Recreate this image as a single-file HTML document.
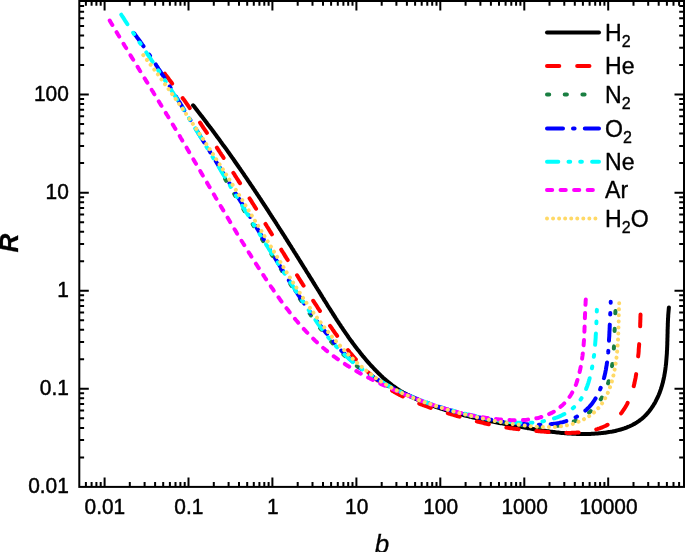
<!DOCTYPE html>
<html><head><meta charset="utf-8"><title>R vs b</title>
<style>
html,body{margin:0;padding:0;background:#fff}
body{width:685px;height:552px;overflow:hidden}
svg{display:block}
text{font-family:"Liberation Sans",sans-serif;fill:#000}
</style></head><body>
<svg width="685" height="552" viewBox="0 0 685 552">
<rect width="685" height="552" fill="#fff"/>
<g fill="none" stroke-width="4" stroke-linecap="round" stroke-linejoin="round">
<path stroke="#000000" d="M193.1 105.3L193.9 106.2L194.6 107.2L195.4 108.1L196.1 109.1L196.9 110.0L197.6 111.0L198.4 112.0L199.1 112.9L199.8 113.9L200.6 114.8L201.3 115.8L202.1 116.7L202.8 117.7L203.5 118.7L204.3 119.6L205.0 120.6L205.7 121.5L206.5 122.5L207.2 123.5L207.9 124.4L208.7 125.4L209.4 126.3L210.1 127.3L210.9 128.3L211.6 129.2L212.3 130.2L213.0 131.2L213.8 132.1L214.5 133.1L215.2 134.1L215.9 135.1L216.6 136.0L217.3 137.0L218.1 138.0L218.8 138.9L219.5 139.9L220.2 140.9L220.9 141.9L221.6 142.8L222.3 143.8L223.0 144.8L223.7 145.8L224.5 146.8L225.2 147.7L225.9 148.7L226.6 149.7L227.3 150.7L228.0 151.7L228.7 152.6L229.4 153.6L230.1 154.6L230.8 155.6L231.5 156.6L232.2 157.6L232.9 158.6L233.6 159.5L234.2 160.5L234.9 161.5L235.6 162.5L236.3 163.5L237.0 164.5L237.7 165.5L238.4 166.5L239.1 167.5L239.8 168.4L240.4 169.4L241.1 170.4L241.8 171.4L242.5 172.4L243.2 173.4L243.9 174.4L244.5 175.4L245.2 176.4L245.9 177.4L246.6 178.4L247.3 179.4L247.9 180.4L248.6 181.4L249.3 182.4L250.0 183.4L250.6 184.4L251.3 185.4L252.0 186.4L252.7 187.4L253.3 188.4L254.0 189.4L254.7 190.4L255.3 191.4L256.0 192.4L256.7 193.4L257.3 194.4L258.0 195.4L258.7 196.4L259.3 197.4L260.0 198.4L260.7 199.4L261.3 200.4L262.0 201.5L262.7 202.5L263.3 203.5L264.0 204.5L264.7 205.5L265.3 206.5L266.0 207.5L266.6 208.5L267.3 209.5L268.0 210.5L268.6 211.6L269.3 212.6L269.9 213.6L270.6 214.6L271.2 215.6L271.9 216.6L272.5 217.6L273.2 218.6L273.9 219.7L274.5 220.7L275.2 221.7L275.8 222.7L276.5 223.7L277.1 224.7L277.8 225.8L278.4 226.8L279.1 227.8L279.7 228.8L280.4 229.8L281.0 230.8L281.7 231.9L282.3 232.9L283.0 233.9L283.6 234.9L284.3 235.9L284.9 237.0L285.6 238.0L286.2 239.0L286.8 240.0L287.5 241.0L288.1 242.1L288.8 243.1L289.4 244.1L290.1 245.1L290.7 246.2L291.4 247.2L292.0 248.2L292.6 249.2L293.3 250.2L293.9 251.3L294.6 252.3L295.2 253.3L295.9 254.3L296.5 255.4L297.1 256.4L297.8 257.4L298.4 258.4L299.1 259.5L299.7 260.5L300.3 261.5L301.0 262.5L301.6 263.6L302.3 264.6L302.9 265.6L303.6 266.7L304.2 267.7L304.8 268.7L305.5 269.7L306.1 270.8L306.7 271.8L307.4 272.8L308.0 273.8L308.7 274.9L309.3 275.9L309.9 276.9L310.6 278.0L311.2 279.0L311.9 280.0L312.5 281.0L313.1 282.1L313.8 283.1L314.4 284.1L315.1 285.2L315.7 286.2L316.3 287.2L317.0 288.3L317.6 289.3L318.3 290.3L318.9 291.3L319.5 292.4L320.2 293.4L320.8 294.4L321.4 295.5L322.1 296.5L322.7 297.5L323.4 298.6L324.0 299.6L324.6 300.6L325.3 301.6L325.9 302.7L326.6 303.7L327.2 304.7L327.8 305.8L328.5 306.8L329.1 307.8L329.8 308.8L330.4 309.9L331.1 310.9L331.7 311.9L332.4 312.9L333.0 314.0L333.7 315.0L334.3 316.0L335.0 317.0L335.6 318.0L336.3 319.1L336.9 320.1L337.6 321.1L338.3 322.1L338.9 323.1L339.6 324.1L340.3 325.1L340.9 326.1L341.6 327.2L342.3 328.2L343.0 329.2L343.6 330.2L344.3 331.2L345.0 332.2L345.7 333.2L346.4 334.1L347.1 335.1L347.8 336.1L348.4 337.1L349.1 338.1L349.8 339.1L350.5 340.1L351.3 341.0L352.0 342.0L352.7 343.0L353.4 343.9L354.1 344.9L354.8 345.9L355.6 346.8L356.3 347.8L357.0 348.7L357.8 349.7L358.5 350.6L359.3 351.6L360.0 352.5L360.8 353.5L361.5 354.4L362.3 355.3L363.0 356.3L363.8 357.2L364.6 358.1L365.4 359.0L366.1 360.0L366.9 360.9L367.7 361.8L368.5 362.7L369.3 363.6L370.1 364.5L370.9 365.4L371.7 366.3L372.6 367.1L373.4 368.0L374.2 368.9L375.0 369.8L375.9 370.6L376.7 371.5L377.6 372.3L378.4 373.2L379.3 374.0L380.2 374.9L381.0 375.7L381.9 376.5L382.8 377.4L383.7 378.2L384.6 379.0L385.5 379.8L386.4 380.6L387.3 381.3L388.2 382.1L389.2 382.9L390.1 383.6L391.1 384.4L392.0 385.1L393.0 385.8L393.9 386.5L394.9 387.2L395.9 387.9L396.9 388.6L397.9 389.3L398.9 389.9L399.9 390.6L400.9 391.2L402.0 391.8L403.0 392.4L404.1 393.0L405.1 393.6L406.2 394.2L407.2 394.8L408.3 395.3L409.4 395.9L410.5 396.4L411.5 396.9L412.6 397.5L413.7 398.0L414.8 398.5L415.9 399.0L417.0 399.5L418.1 400.0L419.2 400.5L420.4 400.9L421.5 401.4L422.6 401.9L423.7 402.3L424.8 402.8L426.0 403.2L427.1 403.6L428.2 404.1L429.4 404.5L430.5 404.9L431.6 405.3L432.8 405.8L433.9 406.2L435.0 406.6L436.2 407.0L437.3 407.4L438.5 407.7L439.6 408.1L440.8 408.5L441.9 408.9L443.1 409.2L444.2 409.6L445.4 410.0L446.5 410.3L447.7 410.7L448.8 411.0L450.0 411.4L451.1 411.7L452.3 412.0L453.5 412.4L454.6 412.7L455.8 413.0L457.0 413.4L458.1 413.7L459.3 414.0L460.5 414.3L461.6 414.6L462.8 414.9L464.0 415.2L465.1 415.5L466.3 415.8L467.5 416.1L468.7 416.4L469.8 416.7L471.0 416.9L472.2 417.2L473.4 417.5L474.6 417.8L475.7 418.0L476.9 418.3L478.1 418.6L479.3 418.8L480.5 419.1L481.6 419.3L482.8 419.6L484.0 419.8L485.2 420.1L486.4 420.3L487.6 420.6L488.7 420.8L489.9 421.1L491.1 421.3L492.3 421.6L493.5 421.8L494.7 422.0L495.9 422.3L497.1 422.5L498.2 422.7L499.4 423.0L500.6 423.2L501.8 423.4L503.0 423.6L504.2 423.9L505.4 424.1L506.6 424.3L507.8 424.5L508.9 424.7L510.1 425.0L511.3 425.2L512.5 425.4L513.7 425.6L514.9 425.8L516.1 426.0L517.3 426.3L518.5 426.5L519.7 426.7L520.8 426.9L522.0 427.1L523.2 427.3L524.4 427.5L525.6 427.7L526.8 427.9L528.0 428.2L529.2 428.4L530.4 428.6L531.5 428.8L532.7 429.0L533.9 429.2L535.1 429.4L536.3 429.6L537.5 429.7L538.7 429.9L539.9 430.1L541.1 430.3L542.3 430.5L543.4 430.7L544.6 430.8L545.8 431.0L547.0 431.2L548.2 431.3L549.4 431.5L550.6 431.7L551.8 431.8L553.0 432.0L554.2 432.1L555.4 432.2L556.6 432.4L557.8 432.5L559.0 432.6L560.2 432.8L561.4 432.9L562.6 433.0L563.8 433.1L565.0 433.2L566.2 433.3L567.4 433.4L568.6 433.5L569.8 433.5L571.0 433.6L572.2 433.7L573.4 433.7L574.6 433.8L575.8 433.8L577.0 433.9L578.3 433.9L579.5 433.9L580.7 434.0L581.9 434.0L583.1 434.0L584.3 434.0L585.6 434.0L586.8 434.0L588.0 433.9L589.2 433.9L590.4 433.9L591.7 433.8L592.9 433.8L594.1 433.7L595.4 433.6L596.6 433.5L597.8 433.4L599.0 433.3L600.3 433.2L601.5 433.1L602.7 433.0L604.0 432.8L605.2 432.7L606.4 432.5L607.6 432.3L608.9 432.1L610.1 431.9L611.3 431.7L612.5 431.5L613.7 431.2L614.9 431.0L616.1 430.7L617.2 430.4L618.4 430.1L619.6 429.8L620.7 429.5L621.9 429.1L623.0 428.8L624.2 428.4L625.3 428.0L626.4 427.6L627.5 427.1L628.6 426.7L629.7 426.2L630.7 425.7L631.8 425.2L632.8 424.7L633.9 424.1L634.9 423.6L635.9 423.0L636.9 422.4L637.9 421.7L638.8 421.1L639.7 420.4L640.7 419.7L641.6 419.0L642.5 418.2L643.3 417.5L644.2 416.7L645.0 415.9L645.9 415.0L646.7 414.2L647.4 413.3L648.2 412.4L649.0 411.5L649.7 410.6L650.4 409.6L651.1 408.7L651.8 407.7L652.5 406.7L653.1 405.7L653.7 404.7L654.4 403.7L655.0 402.6L655.5 401.6L656.1 400.5L656.6 399.4L657.2 398.3L657.7 397.2L658.2 396.1L658.7 395.0L659.1 393.9L659.6 392.8L660.0 391.6L660.4 390.5L660.8 389.4L661.2 388.2L661.5 387.1L661.9 385.9L662.2 384.7L662.5 383.6L662.9 382.4L663.1 381.2L663.4 380.0L663.7 378.8L663.9 377.6L664.2 376.4L664.4 375.2L664.6 374.0L664.8 372.8L665.0 371.6L665.2 370.4L665.4 369.2L665.5 368.0L665.7 366.7L665.8 365.5L666.0 364.3L666.1 363.1L666.2 361.8L666.3 360.6L666.4 359.4L666.5 358.1L666.6 356.9L666.7 355.7L666.8 354.4L666.9 353.2L666.9 352.0L667.0 350.7L667.1 349.5L667.1 348.2L667.2 347.0L667.2 345.8L667.3 344.5L667.3 343.3L667.3 342.0L667.4 340.8L667.4 339.6L667.4 338.3L667.5 337.1L667.5 335.9L667.5 334.7L667.6 333.4L667.6 332.2L667.6 331.0L667.6 329.8L667.7 328.6L667.7 327.4L667.8 326.2L667.8 324.9L667.8 323.7L667.9 322.5L667.9 321.4L668.0 320.2L668.0 319.0L668.1 317.8L668.2 316.6L668.2 315.5L668.3 314.3L668.4 313.1L668.5 312.0L668.6 310.8L668.7 309.7L668.8 308.5L668.9 307.4"/>
<path stroke="#FF0000" stroke-dasharray="12.30 17.87" d="M164.8 73.7L165.5 74.7L166.3 75.7L167.0 76.6L167.7 77.6L168.5 78.6L169.2 79.6L169.9 80.6L170.7 81.6L171.4 82.5L172.1 83.5L172.8 84.5L173.6 85.5L174.3 86.5L175.0 87.5L175.7 88.5L176.5 89.5L177.2 90.4L177.9 91.4L178.6 92.4L179.4 93.4L180.1 94.4L180.8 95.4L181.5 96.4L182.2 97.4L182.9 98.4L183.7 99.4L184.4 100.4L185.1 101.4L185.8 102.4L186.5 103.4L187.2 104.4L187.9 105.4L188.6 106.4L189.3 107.4L190.0 108.4L190.8 109.4L191.5 110.4L192.2 111.4L192.9 112.4L193.6 113.4L194.3 114.4L195.0 115.4L195.7 116.5L196.4 117.5L197.1 118.5L197.8 119.5L198.5 120.5L199.2 121.5L199.9 122.5L200.6 123.5L201.3 124.5L202.0 125.6L202.7 126.6L203.3 127.6L204.0 128.6L204.7 129.6L205.4 130.6L206.1 131.6L206.8 132.7L207.5 133.7L208.2 134.7L208.9 135.7L209.6 136.7L210.2 137.8L210.9 138.8L211.6 139.8L212.3 140.8L213.0 141.8L213.7 142.9L214.4 143.9L215.0 144.9L215.7 145.9L216.4 146.9L217.1 148.0L217.8 149.0L218.4 150.0L219.1 151.0L219.8 152.1L220.5 153.1L221.1 154.1L221.8 155.2L222.5 156.2L223.2 157.2L223.8 158.2L224.5 159.3L225.2 160.3L225.9 161.3L226.5 162.4L227.2 163.4L227.9 164.4L228.5 165.4L229.2 166.5L229.9 167.5L230.6 168.5L231.2 169.6L231.9 170.6L232.6 171.6L233.2 172.7L233.9 173.7L234.6 174.7L235.2 175.8L235.9 176.8L236.5 177.8L237.2 178.9L237.9 179.9L238.5 181.0L239.2 182.0L239.9 183.0L240.5 184.1L241.2 185.1L241.8 186.1L242.5 187.2L243.2 188.2L243.8 189.2L244.5 190.3L245.1 191.3L245.8 192.4L246.4 193.4L247.1 194.4L247.7 195.5L248.4 196.5L249.1 197.6L249.7 198.6L250.4 199.6L251.0 200.7L251.7 201.7L252.3 202.8L253.0 203.8L253.6 204.8L254.3 205.9L254.9 206.9L255.6 208.0L256.2 209.0L256.9 210.1L257.5 211.1L258.2 212.1L258.8 213.2L259.5 214.2L260.1 215.3L260.8 216.3L261.4 217.4L262.1 218.4L262.7 219.4L263.4 220.5L264.0 221.5L264.6 222.6L265.3 223.6L265.9 224.7L266.6 225.7L267.2 226.7L267.9 227.8L268.5 228.8L269.1 229.9L269.8 230.9L270.4 232.0L271.1 233.0L271.7 234.0L272.4 235.1L273.0 236.1L273.6 237.2L274.3 238.2L274.9 239.3L275.6 240.3L276.2 241.4L276.8 242.4L277.5 243.4L278.1 244.5L278.8 245.5L279.4 246.6L280.0 247.6L280.7 248.7L281.3 249.7L281.9 250.8L282.6 251.8L283.2 252.8L283.9 253.9L284.5 254.9L285.1 256.0L285.8 257.0L286.4 258.1L287.1 259.1L287.7 260.1L288.3 261.2L289.0 262.2L289.6 263.3L290.3 264.3L290.9 265.4L291.5 266.4L292.2 267.4L292.8 268.5L293.5 269.5L294.1 270.6L294.8 271.6L295.4 272.6L296.1 273.7L296.7 274.7L297.4 275.8L298.0 276.8L298.6 277.8L299.3 278.9L299.9 279.9L300.6 280.9L301.2 282.0L301.9 283.0L302.6 284.1L303.2 285.1L303.9 286.1L304.5 287.2L305.2 288.2L305.8 289.2L306.5 290.3L307.1 291.3L307.8 292.3L308.5 293.4L309.1 294.4L309.8 295.4L310.5 296.5L311.1 297.5L311.8 298.5L312.5 299.6L313.1 300.6L313.8 301.6L314.5 302.7L315.1 303.7L315.8 304.7L316.5 305.7L317.2 306.8L317.8 307.8L318.5 308.8L319.2 309.9L319.9 310.9L320.6 311.9L321.2 312.9L321.9 314.0L322.6 315.0L323.3 316.0L324.0 317.0L324.7 318.0L325.4 319.1L326.1 320.1L326.8 321.1L327.5 322.1L328.2 323.1L328.9 324.2L329.6 325.2L330.3 326.2L331.0 327.2L331.7 328.2L332.4 329.2L333.1 330.3L333.9 331.3L334.6 332.3L335.3 333.3L336.0 334.3L336.8 335.3L337.5 336.3L338.2 337.3L338.9 338.3L339.7 339.3L340.4 340.3L341.2 341.3L341.9 342.3L342.7 343.3L343.4 344.2L344.2 345.2L344.9 346.2L345.7 347.2L346.4 348.2L347.2 349.1L348.0 350.1L348.8 351.0L349.5 352.0L350.3 353.0L351.1 353.9L351.9 354.8L352.7 355.8L353.5 356.7L354.3 357.7L355.1 358.6L355.9 359.5L356.7 360.4L357.5 361.3L358.4 362.2L359.2 363.1L360.0 364.0L360.9 364.9L361.7 365.8L362.6 366.7L363.4 367.6L364.3 368.4L365.1 369.3L366.0 370.1L366.9 371.0L367.7 371.8L368.6 372.7L369.5 373.5L370.4 374.3L371.3 375.1L372.2 375.9L373.1 376.7L374.0 377.5L375.0 378.3L375.9 379.1L376.8 379.8L377.8 380.6L378.7 381.4L379.7 382.1L380.6 382.8L381.6 383.6L382.6 384.3L383.5 385.0L384.5 385.7L385.5 386.4L386.5 387.1L387.5 387.7L388.5 388.4L389.5 389.1L390.6 389.7L391.6 390.3L392.6 391.0L393.7 391.6L394.7 392.2L395.8 392.8L396.9 393.4L397.9 394.0L399.0 394.6L400.1 395.1L401.2 395.7L402.3 396.2L403.4 396.8L404.5 397.3L405.6 397.8L406.7 398.4L407.8 398.9L408.9 399.4L410.1 399.9L411.2 400.4L412.3 400.9L413.5 401.3L414.6 401.8L415.8 402.3L416.9 402.7L418.1 403.2L419.2 403.6L420.4 404.1L421.6 404.5L422.7 405.0L423.9 405.4L425.1 405.8L426.2 406.2L427.4 406.7L428.6 407.1L429.8 407.5L430.9 407.9L432.1 408.3L433.3 408.7L434.5 409.1L435.7 409.4L436.9 409.8L438.0 410.2L439.2 410.6L440.4 411.0L441.6 411.3L442.8 411.7L444.0 412.1L445.2 412.4L446.4 412.8L447.6 413.1L448.7 413.5L449.9 413.9L451.1 414.2L452.3 414.6L453.5 414.9L454.7 415.3L455.8 415.6L457.0 416.0L458.2 416.3L459.4 416.6L460.6 417.0L461.7 417.3L462.9 417.7L464.1 418.0L465.3 418.3L466.5 418.6L467.6 419.0L468.8 419.3L470.0 419.6L471.2 419.9L472.4 420.2L473.5 420.5L474.7 420.9L475.9 421.2L477.1 421.5L478.3 421.8L479.4 422.0L480.6 422.3L481.8 422.6L483.0 422.9L484.2 423.2L485.3 423.5L486.5 423.7L487.7 424.0L488.9 424.3L490.1 424.5L491.3 424.8L492.5 425.0L493.6 425.3L494.8 425.5L496.0 425.7L497.2 426.0L498.4 426.2L499.6 426.4L500.8 426.6L502.0 426.8L503.2 427.0L504.4 427.2L505.6 427.4L506.8 427.6L508.0 427.8L509.2 428.0L510.4 428.2L511.7 428.3L512.9 428.5L514.1 428.7L515.3 428.8L516.5 429.0L517.7 429.1L518.9 429.3L520.2 429.4L521.4 429.6L522.6 429.7L523.8 429.9L525.0 430.0L526.3 430.1L527.5 430.2L528.7 430.4L529.9 430.5L531.2 430.6L532.4 430.7L533.6 430.8L534.9 430.9L536.1 431.0L537.3 431.1L538.6 431.2L539.8 431.3L541.0 431.4L542.3 431.5L543.5 431.6L544.7 431.7L546.0 431.8L547.2 431.9L548.4 432.0L549.7 432.1L550.9 432.1L552.2 432.2L553.4 432.3L554.6 432.4L555.9 432.4L557.1 432.5L558.4 432.6L559.6 432.6L560.8 432.7L562.1 432.7L563.3 432.8L564.5 432.8L565.8 432.8L567.0 432.9L568.3 432.9L569.5 432.9L570.7 432.9L571.9 432.8L573.2 432.8L574.4 432.8L575.6 432.7L576.9 432.6L578.1 432.6L579.3 432.5L580.5 432.4L581.7 432.3L582.9 432.1L584.2 432.0L585.4 431.8L586.6 431.6L587.8 431.4L589.0 431.2L590.2 431.0L591.4 430.7L592.5 430.4L593.7 430.1L594.9 429.8L596.1 429.5L597.3 429.1L598.4 428.7L599.6 428.3L600.7 427.9L601.9 427.5L603.0 427.0L604.1 426.5L605.3 426.0L606.4 425.4L607.4 424.9L608.5 424.3L609.5 423.6L610.6 423.0L611.6 422.3L612.6 421.6L613.5 420.9L614.5 420.1L615.4 419.3L616.3 418.5L617.2 417.7L618.0 416.8L618.9 415.9L619.7 415.0L620.5 414.1L621.2 413.2L622.0 412.2L622.7 411.2L623.4 410.2L624.1 409.2L624.7 408.1L625.4 407.1L626.0 406.0L626.6 405.0L627.2 403.9L627.7 402.8L628.3 401.7L628.8 400.6L629.3 399.5L629.7 398.3L630.2 397.2L630.6 396.1L631.1 394.9L631.5 393.8L631.9 392.6L632.2 391.4L632.6 390.2L632.9 389.1L633.3 387.9L633.6 386.7L633.9 385.5L634.2 384.3L634.5 383.1L634.7 381.8L635.0 380.6L635.2 379.4L635.5 378.2L635.7 377.0L635.9 375.7L636.1 374.5L636.3 373.3L636.5 372.0L636.6 370.8L636.8 369.6L637.0 368.3L637.1 367.1L637.3 365.9L637.4 364.6L637.5 363.4L637.7 362.2L637.8 360.9L637.9 359.7L638.0 358.5L638.1 357.2L638.2 356.0L638.3 354.8L638.5 353.6L638.6 352.4L638.7 351.1L638.7 349.9L638.8 348.7L638.9 347.5L639.0 346.3L639.1 345.1L639.2 343.9L639.3 342.7L639.4 341.5L639.4 340.2L639.5 339.0L639.6 337.8L639.6 336.6L639.7 335.4L639.8 334.2L639.8 333.0L639.9 331.8L639.9 330.5L640.0 329.3L640.1 328.1L640.1 326.9L640.2 325.7L640.2 324.4L640.2 323.2L640.3 322.0L640.3 320.7L640.4 319.5L640.4 318.3L640.4 317.0L640.5 315.8L640.5 314.5"/>
<path stroke="#1A7F42" stroke-dasharray="2.20 15.50" d="M225.1 178.9L225.4 179.5L225.9 180.3L226.5 181.2L227.0 182.1L227.5 182.9L228.0 183.8L228.5 184.6L229.0 185.5L229.5 186.3L230.1 187.2L230.6 188.0L231.1 188.9L231.6 189.8L232.1 190.6L232.6 191.5L233.2 192.3L233.7 193.2L234.2 194.0L234.7 194.9L235.2 195.7L235.7 196.6L236.2 197.4L236.8 198.3L237.3 199.1L237.8 200.0L238.3 200.8L238.8 201.7L239.4 202.5L239.9 203.4L240.4 204.2L240.9 205.1L241.4 205.9L241.9 206.8L242.5 207.6L243.0 208.5L243.5 209.3L244.0 210.2L244.5 211.0L245.1 211.9L245.6 212.7L246.1 213.6L246.6 214.4L247.1 215.3L247.7 216.1L248.2 216.9L248.7 217.8L249.2 218.6L249.8 219.5L250.3 220.3L250.8 221.2L251.3 222.0L251.8 222.9L252.4 223.7L252.9 224.6L253.4 225.4L253.9 226.2L254.5 227.1L255.0 227.9L255.5 228.8L256.0 229.6L256.5 230.5L257.1 231.3L257.6 232.1L258.1 233.0L258.6 233.8L259.2 234.7L259.7 235.5L260.2 236.4L260.7 237.2L261.3 238.0L261.8 238.9L262.3 239.7L262.9 240.6L263.4 241.4L263.9 242.2L264.4 243.1L265.0 243.9L265.5 244.8L266.0 245.6L266.5 246.4L267.1 247.3L267.6 248.1L268.1 249.0L268.7 249.8L269.2 250.6L269.7 251.5L270.2 252.3L270.8 253.2L271.3 254.0L271.8 254.8L272.4 255.7L272.9 256.5L273.4 257.4L274.0 258.2L274.5 259.0L275.0 259.9L275.6 260.7L276.1 261.6L276.6 262.4L277.1 263.2L277.7 264.1L278.2 264.9L278.7 265.8L279.3 266.6L279.8 267.5L280.3 268.3L280.9 269.1L281.4 270.0L281.9 270.8L282.5 271.7L283.0 272.5L283.6 273.3L284.1 274.2L284.6 275.0L285.2 275.9L285.7 276.7L286.2 277.5L286.8 278.4L287.3 279.2L287.8 280.1L288.4 280.9L288.9 281.7L289.5 282.6L290.0 283.4L290.5 284.3L291.1 285.1L291.6 286.0L292.1 286.8L292.7 287.6L293.2 288.5L293.8 289.3L294.3 290.2L294.8 291.0L295.4 291.9L295.9 292.7L296.5 293.5L297.0 294.4L297.6 295.2L298.1 296.1L298.6 296.9L299.2 297.7L299.7 298.6L300.3 299.4L300.8 300.3L301.4 301.1L301.9 301.9L302.5 302.8L303.0 303.6L303.6 304.5L304.1 305.3L304.7 306.1L305.2 307.0L305.8 307.8L306.4 308.6L306.9 309.5L307.5 310.3L308.0 311.1L308.6 311.9L309.2 312.8L309.7 313.6L310.3 314.4L310.9 315.2L311.4 316.1L312.0 316.9L312.6 317.7L313.2 318.5L313.7 319.3L314.3 320.1L314.9 320.9L315.5 321.8L316.1 322.6L316.7 323.4L317.3 324.2L317.8 325.0L318.4 325.8L319.0 326.6L319.6 327.4L320.2 328.2L320.8 329.0L321.4 329.7L322.1 330.5L322.7 331.3L323.3 332.1L323.9 332.9L324.5 333.6L325.1 334.4L325.8 335.2L326.4 336.0L327.0 336.7L327.7 337.5L328.3 338.3L328.9 339.0L329.6 339.8L330.2 340.5L330.9 341.3L331.5 342.0L332.2 342.8L332.8 343.5L333.5 344.2L334.1 345.0L334.8 345.7L335.5 346.4L336.2 347.2L336.8 347.9L337.5 348.6L338.2 349.3L338.9 350.0L339.6 350.7L340.3 351.4L341.0 352.1L341.7 352.8L342.4 353.5L343.1 354.2L343.8 354.9L344.5 355.6L345.2 356.2L346.0 356.9L346.7 357.6L347.4 358.3L348.2 358.9L348.9 359.6L349.7 360.2L350.4 360.9L351.2 361.5L351.9 362.2L352.7 362.8L353.5 363.4L354.2 364.0L355.0 364.7L355.8 365.3L356.6 365.9L357.3 366.5L358.1 367.1L358.9 367.7L359.7 368.3L360.5 368.9L361.3 369.5L362.1 370.1L362.9 370.7L363.8 371.2L364.6 371.8L365.4 372.4L366.2 373.0L367.1 373.5L367.9 374.1L368.7 374.6L369.6 375.2L370.4 375.7L371.2 376.3L372.1 376.8L372.9 377.3L373.8 377.9L374.6 378.4L375.5 378.9L376.3 379.4L377.2 380.0L378.1 380.5L378.9 381.0L379.8 381.5L380.7 382.0L381.6 382.5L382.4 383.0L383.3 383.5L384.2 383.9L385.1 384.4L385.9 384.9L386.8 385.4L387.7 385.9L388.6 386.3L389.5 386.8L390.4 387.3L391.3 387.7L392.2 388.2L393.1 388.6L394.0 389.1L394.9 389.5L395.8 390.0L396.7 390.4L397.6 390.8L398.5 391.3L399.4 391.7L400.3 392.1L401.2 392.5L402.1 393.0L403.0 393.4L404.0 393.8L404.9 394.2L405.8 394.6L406.7 395.0L407.6 395.4L408.5 395.8L409.5 396.2L410.4 396.6L411.3 397.0L412.2 397.3L413.1 397.7L414.0 398.1L415.0 398.5L415.9 398.8L416.8 399.2L417.7 399.6L418.7 399.9L419.6 400.3L420.5 400.7L421.4 401.0L422.4 401.4L423.3 401.7L424.2 402.1L425.1 402.4L426.1 402.7L427.0 403.1L427.9 403.4L428.9 403.7L429.8 404.1L430.7 404.4L431.7 404.7L432.6 405.0L433.5 405.3L434.5 405.7L435.4 406.0L436.3 406.3L437.3 406.6L438.2 406.9L439.1 407.2L440.1 407.5L441.0 407.8L442.0 408.1L442.9 408.4L443.8 408.7L444.8 408.9L445.7 409.2L446.7 409.5L447.6 409.8L448.6 410.1L449.5 410.3L450.4 410.6L451.4 410.9L452.3 411.1L453.3 411.4L454.2 411.7L455.2 411.9L456.1 412.2L457.1 412.4L458.1 412.7L459.0 413.0L460.0 413.2L460.9 413.4L461.9 413.7L462.8 413.9L463.8 414.2L464.7 414.4L465.7 414.7L466.7 414.9L467.6 415.1L468.6 415.3L469.6 415.6L470.5 415.8L471.5 416.0L472.5 416.2L473.4 416.5L474.4 416.7L475.4 416.9L476.3 417.1L477.3 417.3L478.3 417.5L479.2 417.7L480.2 418.0L481.2 418.2L482.2 418.4L483.1 418.6L484.1 418.8L485.1 419.0L486.1 419.2L487.1 419.3L488.0 419.5L489.0 419.7L490.0 419.9L491.0 420.1L492.0 420.3L493.0 420.5L493.9 420.7L494.9 420.8L495.9 421.0L496.9 421.2L497.9 421.4L498.9 421.6L499.9 421.7L500.9 421.9L501.9 422.1L502.9 422.2L503.9 422.4L504.9 422.6L505.9 422.7L506.9 422.9L507.9 423.1L508.9 423.2L509.9 423.4L510.9 423.5L511.9 423.7L512.9 423.9L513.9 424.0L514.9 424.2L515.9 424.3L516.9 424.5L517.9 424.6L518.9 424.7L520.0 424.9L521.0 425.0L522.0 425.1L523.0 425.3L524.0 425.4L525.0 425.5L526.0 425.6L527.0 425.7L528.0 425.8L529.1 425.9L530.1 426.0L531.1 426.1L532.1 426.2L533.1 426.3L534.1 426.3L535.1 426.4L536.1 426.5L537.1 426.5L538.1 426.6L539.1 426.6L540.1 426.6L541.1 426.7L542.1 426.7L543.1 426.7L544.1 426.7L545.1 426.7L546.1 426.7L547.1 426.6L548.1 426.6L549.1 426.5L550.1 426.5L551.0 426.4L552.0 426.3L553.0 426.3L554.0 426.2L555.0 426.1L555.9 425.9L556.9 425.8L557.9 425.7L558.8 425.5L559.8 425.4L560.8 425.2L561.7 425.0L562.7 424.8L563.6 424.6L564.6 424.4L565.5 424.2L566.4 423.9L567.4 423.6L568.3 423.4L569.2 423.1L570.2 422.8L571.1 422.5L572.0 422.1L572.9 421.8L573.8 421.4L574.8 421.1L575.7 420.7L576.6 420.3L577.4 419.9L578.3 419.4L579.2 419.0L580.1 418.5L581.0 418.0L581.8 417.5L582.7 417.0L583.5 416.5L584.4 416.0L585.2 415.4L586.0 414.9L586.8 414.3L587.6 413.7L588.4 413.1L589.2 412.5L590.0 411.8L590.7 411.2L591.5 410.5L592.2 409.8L592.9 409.2L593.6 408.5L594.3 407.7L595.0 407.0L595.7 406.3L596.3 405.5L596.9 404.8L597.5 404.0L598.1 403.2L598.7 402.4L599.3 401.6L599.8 400.8L600.4 399.9L600.9 399.1L601.4 398.2L601.9 397.4L602.4 396.5L602.9 395.6L603.3 394.7L603.8 393.9L604.2 393.0L604.6 392.1L605.0 391.2L605.4 390.3L605.8 389.3L606.2 388.4L606.5 387.5L606.9 386.6L607.2 385.6L607.5 384.7L607.9 383.8L608.2 382.8L608.5 381.9L608.7 380.9L609.0 380.0L609.3 379.0L609.5 378.1L609.8 377.1L610.0 376.1L610.3 375.2L610.5 374.2L610.7 373.2L610.9 372.3L611.1 371.3L611.3 370.3L611.5 369.3L611.7 368.3L611.8 367.3L612.0 366.4L612.1 365.4L612.3 364.4L612.4 363.4L612.6 362.4L612.7 361.4L612.8 360.4L612.9 359.4L613.0 358.4L613.1 357.4L613.2 356.4L613.3 355.4L613.4 354.4L613.5 353.3L613.6 352.3L613.7 351.3L613.7 350.3L613.8 349.3L613.9 348.3L613.9 347.3L614.0 346.3L614.1 345.3L614.1 344.3L614.2 343.2L614.2 342.2L614.2 341.2L614.3 340.2L614.3 339.2L614.4 338.2L614.4 337.2L614.4 336.2L614.5 335.2L614.5 334.2L614.5 333.2L614.6 332.1L614.6 331.1L614.6 330.1L614.7 329.1L614.7 328.1L614.7 327.1L614.8 326.1L614.8 325.2L614.8 324.2L614.9 323.2L614.9 322.2L614.9 321.2L615.0 320.2L615.0 319.2L615.1 318.2L615.1 317.3L615.2 316.3L615.2 315.3L615.3 314.4L615.3 313.4L615.4 312.4L615.4 311.5L615.5 310.5"/>
<path stroke="#0000FF" stroke-dasharray="16.06 10.04 1.61 10.24" d="M134.1 33.3L134.9 34.3L135.6 35.3L136.4 36.4L137.1 37.4L137.9 38.4L138.6 39.4L139.4 40.5L140.1 41.5L140.8 42.5L141.6 43.5L142.3 44.6L143.0 45.6L143.8 46.6L144.5 47.7L145.2 48.7L145.9 49.8L146.7 50.8L147.4 51.9L148.1 52.9L148.8 54.0L149.5 55.0L150.2 56.1L150.9 57.1L151.6 58.2L152.3 59.2L153.0 60.3L153.7 61.3L154.4 62.4L155.1 63.4L155.8 64.5L156.5 65.6L157.2 66.6L157.9 67.7L158.6 68.8L159.3 69.8L159.9 70.9L160.6 72.0L161.3 73.0L162.0 74.1L162.7 75.2L163.4 76.2L164.0 77.3L164.7 78.4L165.4 79.5L166.1 80.5L166.7 81.6L167.4 82.7L168.1 83.8L168.7 84.8L169.4 85.9L170.1 87.0L170.8 88.1L171.4 89.2L172.1 90.2L172.8 91.3L173.4 92.4L174.1 93.5L174.7 94.6L175.4 95.6L176.1 96.7L176.7 97.8L177.4 98.9L178.1 100.0L178.7 101.0L179.4 102.1L180.1 103.2L180.7 104.3L181.4 105.4L182.0 106.4L182.7 107.5L183.4 108.6L184.0 109.7L184.7 110.8L185.4 111.9L186.0 112.9L186.7 114.0L187.3 115.1L188.0 116.2L188.7 117.3L189.3 118.3L190.0 119.4L190.7 120.5L191.3 121.6L192.0 122.7L192.7 123.7L193.3 124.8L194.0 125.9L194.7 127.0L195.3 128.1L196.0 129.1L196.6 130.2L197.3 131.3L198.0 132.4L198.6 133.4L199.3 134.5L200.0 135.6L200.6 136.7L201.3 137.8L202.0 138.8L202.6 139.9L203.3 141.0L204.0 142.1L204.6 143.1L205.3 144.2L206.0 145.3L206.6 146.4L207.3 147.5L208.0 148.5L208.6 149.6L209.3 150.7L210.0 151.8L210.6 152.8L211.3 153.9L212.0 155.0L212.6 156.1L213.3 157.2L214.0 158.2L214.6 159.3L215.3 160.4L216.0 161.5L216.6 162.5L217.3 163.6L218.0 164.7L218.6 165.8L219.3 166.8L220.0 167.9L220.6 169.0L221.3 170.1L222.0 171.2L222.6 172.2L223.3 173.3L224.0 174.4L224.6 175.5L225.3 176.5L226.0 177.6L226.6 178.7L227.3 179.8L228.0 180.9L228.6 181.9L229.3 183.0L230.0 184.1L230.6 185.2L231.3 186.3L232.0 187.3L232.6 188.4L233.3 189.5L234.0 190.6L234.6 191.6L235.3 192.7L235.9 193.8L236.6 194.9L237.3 196.0L237.9 197.0L238.6 198.1L239.3 199.2L239.9 200.3L240.6 201.4L241.3 202.4L241.9 203.5L242.6 204.6L243.2 205.7L243.9 206.8L244.6 207.9L245.2 208.9L245.9 210.0L246.6 211.1L247.2 212.2L247.9 213.3L248.5 214.4L249.2 215.4L249.9 216.5L250.5 217.6L251.2 218.7L251.8 219.8L252.5 220.9L253.2 221.9L253.8 223.0L254.5 224.1L255.1 225.2L255.8 226.3L256.5 227.4L257.1 228.5L257.8 229.5L258.4 230.6L259.1 231.7L259.7 232.8L260.4 233.9L261.1 235.0L261.7 236.1L262.4 237.1L263.0 238.2L263.7 239.3L264.3 240.4L265.0 241.5L265.6 242.6L266.3 243.7L267.0 244.8L267.6 245.9L268.3 246.9L268.9 248.0L269.6 249.1L270.2 250.2L270.9 251.3L271.6 252.4L272.2 253.5L272.9 254.6L273.5 255.6L274.2 256.7L274.9 257.8L275.5 258.9L276.2 260.0L276.8 261.1L277.5 262.1L278.2 263.2L278.8 264.3L279.5 265.4L280.2 266.5L280.8 267.6L281.5 268.6L282.2 269.7L282.9 270.8L283.5 271.9L284.2 273.0L284.9 274.0L285.5 275.1L286.2 276.2L286.9 277.3L287.6 278.3L288.3 279.4L288.9 280.5L289.6 281.5L290.3 282.6L291.0 283.7L291.7 284.7L292.4 285.8L293.1 286.9L293.7 287.9L294.4 289.0L295.1 290.1L295.8 291.1L296.5 292.2L297.2 293.2L297.9 294.3L298.6 295.3L299.3 296.4L300.0 297.4L300.8 298.5L301.5 299.5L302.2 300.6L302.9 301.6L303.6 302.7L304.3 303.7L305.1 304.8L305.8 305.8L306.5 306.8L307.2 307.9L308.0 308.9L308.7 310.0L309.4 311.0L310.2 312.0L310.9 313.0L311.7 314.1L312.4 315.1L313.1 316.1L313.9 317.1L314.6 318.1L315.4 319.2L316.2 320.2L316.9 321.2L317.7 322.2L318.4 323.2L319.2 324.2L320.0 325.2L320.8 326.2L321.5 327.2L322.3 328.2L323.1 329.2L323.9 330.2L324.7 331.2L325.5 332.2L326.3 333.2L327.1 334.1L327.9 335.1L328.7 336.1L329.5 337.1L330.3 338.1L331.1 339.0L331.9 340.0L332.8 341.0L333.6 341.9L334.4 342.9L335.3 343.8L336.1 344.8L336.9 345.7L337.8 346.7L338.6 347.6L339.5 348.5L340.4 349.5L341.2 350.4L342.1 351.3L343.0 352.2L343.8 353.1L344.7 354.0L345.6 354.9L346.5 355.8L347.4 356.7L348.3 357.6L349.3 358.4L350.2 359.3L351.1 360.2L352.0 361.0L353.0 361.9L353.9 362.7L354.9 363.5L355.8 364.3L356.8 365.2L357.8 366.0L358.8 366.8L359.8 367.6L360.7 368.3L361.8 369.1L362.8 369.9L363.8 370.6L364.8 371.4L365.8 372.1L366.9 372.8L367.9 373.5L369.0 374.3L370.0 375.0L371.1 375.7L372.2 376.3L373.2 377.0L374.3 377.7L375.4 378.4L376.5 379.0L377.6 379.7L378.7 380.3L379.8 381.0L380.9 381.6L382.0 382.2L383.1 382.8L384.2 383.5L385.4 384.1L386.5 384.7L387.6 385.3L388.7 385.9L389.9 386.5L391.0 387.0L392.1 387.6L393.3 388.2L394.4 388.8L395.5 389.3L396.7 389.9L397.8 390.4L399.0 391.0L400.1 391.5L401.3 392.1L402.4 392.6L403.6 393.1L404.7 393.6L405.9 394.2L407.1 394.7L408.2 395.2L409.4 395.7L410.6 396.2L411.7 396.7L412.9 397.2L414.1 397.7L415.2 398.2L416.4 398.6L417.6 399.1L418.8 399.6L419.9 400.0L421.1 400.5L422.3 400.9L423.5 401.4L424.7 401.8L425.9 402.3L427.1 402.7L428.3 403.1L429.4 403.6L430.6 404.0L431.8 404.4L433.0 404.8L434.2 405.2L435.4 405.6L436.6 406.0L437.8 406.4L439.0 406.8L440.3 407.2L441.5 407.6L442.7 408.0L443.9 408.3L445.1 408.7L446.3 409.1L447.5 409.4L448.7 409.8L449.9 410.2L451.2 410.5L452.4 410.8L453.6 411.2L454.8 411.5L456.0 411.9L457.3 412.2L458.5 412.5L459.7 412.8L460.9 413.2L462.2 413.5L463.4 413.8L464.6 414.1L465.9 414.4L467.1 414.7L468.3 415.0L469.6 415.3L470.8 415.5L472.0 415.8L473.3 416.1L474.5 416.4L475.7 416.6L477.0 416.9L478.2 417.2L479.5 417.4L480.7 417.7L481.9 417.9L483.2 418.2L484.4 418.4L485.7 418.7L486.9 418.9L488.2 419.1L489.4 419.4L490.6 419.6L491.9 419.8L493.1 420.0L494.4 420.3L495.6 420.5L496.9 420.7L498.1 420.9L499.4 421.1L500.6 421.3L501.9 421.5L503.1 421.7L504.4 421.9L505.6 422.0L506.9 422.2L508.1 422.4L509.4 422.6L510.7 422.7L511.9 422.9L513.2 423.0L514.4 423.2L515.7 423.3L516.9 423.5L518.2 423.6L519.5 423.7L520.7 423.8L522.0 423.9L523.3 424.1L524.5 424.1L525.8 424.2L527.1 424.3L528.3 424.4L529.6 424.5L530.9 424.5L532.2 424.6L533.4 424.6L534.7 424.6L536.0 424.7L537.3 424.7L538.6 424.7L539.9 424.7L541.1 424.7L542.4 424.6L543.7 424.6L545.0 424.6L546.3 424.5L547.6 424.4L548.9 424.3L550.1 424.2L551.4 424.1L552.7 424.0L554.0 423.8L555.2 423.6L556.5 423.4L557.8 423.2L559.0 423.0L560.2 422.7L561.5 422.4L562.7 422.2L563.9 421.8L565.2 421.5L566.4 421.1L567.6 420.7L568.7 420.3L569.9 419.8L571.1 419.4L572.2 418.9L573.4 418.4L574.5 417.8L575.6 417.2L576.7 416.7L577.8 416.0L578.9 415.4L579.9 414.7L580.9 414.0L582.0 413.3L583.0 412.6L583.9 411.8L584.9 411.0L585.8 410.2L586.7 409.4L587.6 408.5L588.5 407.7L589.4 406.8L590.2 405.8L591.0 404.9L591.8 403.9L592.5 403.0L593.3 401.9L594.0 400.9L594.7 399.9L595.3 398.8L596.0 397.7L596.6 396.7L597.2 395.5L597.8 394.4L598.4 393.3L598.9 392.1L599.5 391.0L600.0 389.8L600.4 388.6L600.9 387.4L601.4 386.2L601.8 385.0L602.2 383.8L602.6 382.6L603.0 381.4L603.4 380.1L603.7 378.9L604.1 377.6L604.4 376.4L604.7 375.2L605.0 373.9L605.3 372.7L605.5 371.4L605.8 370.1L606.0 368.9L606.2 367.6L606.4 366.4L606.7 365.1L606.8 363.8L607.0 362.6L607.2 361.3L607.4 360.0L607.5 358.8L607.7 357.5L607.8 356.2L607.9 354.9L608.0 353.7L608.2 352.4L608.3 351.1L608.4 349.9L608.5 348.6L608.6 347.3L608.7 346.0L608.7 344.8L608.8 343.5L608.9 342.2L609.0 341.0L609.0 339.7L609.1 338.4L609.2 337.2L609.3 335.9L609.3 334.6L609.4 333.4L609.4 332.1L609.5 330.9L609.6 329.6L609.6 328.3L609.7 327.1L609.7 325.8L609.8 324.6L609.9 323.3L609.9 322.0L610.0 320.8L610.0 319.5L610.1 318.3L610.1 317.0L610.2 315.7L610.2 314.5L610.3 313.2L610.3 312.0L610.4 310.7L610.4 309.4L610.5 308.2L610.5 306.9L610.6 305.6L610.6 304.3L610.7 303.1L610.7 301.8"/>
<path stroke="#00FFFF" stroke-dasharray="11.34 10.23 1.71 10.03 1.71 10.23" d="M121.3 14.7L122.0 15.8L122.7 16.8L123.4 17.9L124.1 19.0L124.7 20.0L125.4 21.1L126.1 22.1L126.8 23.2L127.5 24.3L128.2 25.3L128.9 26.4L129.6 27.4L130.3 28.5L131.0 29.5L131.7 30.6L132.4 31.7L133.1 32.7L133.8 33.8L134.5 34.8L135.2 35.9L135.9 36.9L136.6 38.0L137.3 39.0L138.0 40.1L138.7 41.1L139.4 42.2L140.1 43.2L140.9 44.3L141.6 45.3L142.3 46.4L143.0 47.4L143.7 48.5L144.4 49.6L145.1 50.6L145.8 51.7L146.5 52.7L147.2 53.8L147.9 54.8L148.6 55.9L149.3 56.9L150.0 58.0L150.8 59.0L151.5 60.1L152.2 61.1L152.9 62.2L153.6 63.2L154.3 64.3L155.0 65.3L155.7 66.4L156.4 67.4L157.1 68.5L157.8 69.5L158.5 70.6L159.2 71.7L159.9 72.7L160.6 73.8L161.3 74.8L162.0 75.9L162.7 76.9L163.4 78.0L164.1 79.1L164.8 80.1L165.5 81.2L166.2 82.2L166.9 83.3L167.6 84.4L168.2 85.4L168.9 86.5L169.6 87.5L170.3 88.6L171.0 89.7L171.7 90.7L172.4 91.8L173.1 92.9L173.7 93.9L174.4 95.0L175.1 96.1L175.8 97.1L176.5 98.2L177.1 99.3L177.8 100.3L178.5 101.4L179.2 102.5L179.8 103.6L180.5 104.6L181.2 105.7L181.9 106.8L182.5 107.8L183.2 108.9L183.9 110.0L184.6 111.1L185.2 112.1L185.9 113.2L186.6 114.3L187.2 115.4L187.9 116.4L188.6 117.5L189.2 118.6L189.9 119.7L190.6 120.7L191.2 121.8L191.9 122.9L192.6 124.0L193.2 125.0L193.9 126.1L194.6 127.2L195.2 128.3L195.9 129.4L196.5 130.4L197.2 131.5L197.9 132.6L198.5 133.7L199.2 134.8L199.8 135.8L200.5 136.9L201.2 138.0L201.8 139.1L202.5 140.2L203.1 141.2L203.8 142.3L204.5 143.4L205.1 144.5L205.8 145.6L206.4 146.7L207.1 147.7L207.7 148.8L208.4 149.9L209.1 151.0L209.7 152.1L210.4 153.2L211.0 154.2L211.7 155.3L212.3 156.4L213.0 157.5L213.7 158.6L214.3 159.7L215.0 160.7L215.6 161.8L216.3 162.9L216.9 164.0L217.6 165.1L218.2 166.2L218.9 167.2L219.6 168.3L220.2 169.4L220.9 170.5L221.5 171.6L222.2 172.7L222.8 173.8L223.5 174.8L224.1 175.9L224.8 177.0L225.5 178.1L226.1 179.2L226.8 180.3L227.4 181.3L228.1 182.4L228.7 183.5L229.4 184.6L230.1 185.7L230.7 186.8L231.4 187.8L232.0 188.9L232.7 190.0L233.3 191.1L234.0 192.2L234.7 193.3L235.3 194.3L236.0 195.4L236.6 196.5L237.3 197.6L238.0 198.7L238.6 199.8L239.3 200.8L239.9 201.9L240.6 203.0L241.2 204.1L241.9 205.2L242.6 206.3L243.2 207.3L243.9 208.4L244.6 209.5L245.2 210.6L245.9 211.7L246.5 212.7L247.2 213.8L247.9 214.9L248.5 216.0L249.2 217.1L249.9 218.1L250.5 219.2L251.2 220.3L251.8 221.4L252.5 222.5L253.2 223.5L253.8 224.6L254.5 225.7L255.2 226.8L255.8 227.9L256.5 228.9L257.2 230.0L257.8 231.1L258.5 232.2L259.2 233.2L259.8 234.3L260.5 235.4L261.2 236.5L261.9 237.6L262.5 238.6L263.2 239.7L263.9 240.8L264.5 241.9L265.2 242.9L265.9 244.0L266.5 245.1L267.2 246.2L267.9 247.2L268.6 248.3L269.2 249.4L269.9 250.4L270.6 251.5L271.3 252.6L271.9 253.7L272.6 254.7L273.3 255.8L274.0 256.9L274.7 257.9L275.3 259.0L276.0 260.1L276.7 261.2L277.4 262.2L278.0 263.3L278.7 264.4L279.4 265.4L280.1 266.5L280.8 267.6L281.5 268.6L282.1 269.7L282.8 270.8L283.5 271.8L284.2 272.9L284.9 274.0L285.6 275.0L286.3 276.1L286.9 277.2L287.6 278.2L288.3 279.3L289.0 280.3L289.7 281.4L290.4 282.5L291.1 283.5L291.8 284.6L292.5 285.7L293.2 286.7L293.8 287.8L294.5 288.8L295.2 289.9L295.9 291.0L296.6 292.0L297.3 293.1L298.0 294.1L298.7 295.2L299.4 296.2L300.1 297.3L300.8 298.4L301.5 299.4L302.2 300.5L302.9 301.5L303.6 302.6L304.3 303.6L305.0 304.7L305.7 305.7L306.4 306.8L307.1 307.8L307.8 308.9L308.6 309.9L309.3 311.0L310.0 312.0L310.7 313.1L311.4 314.1L312.1 315.2L312.8 316.2L313.5 317.3L314.3 318.3L315.0 319.3L315.7 320.4L316.4 321.4L317.1 322.5L317.9 323.5L318.6 324.5L319.3 325.5L320.1 326.6L320.8 327.6L321.6 328.6L322.3 329.6L323.1 330.6L323.9 331.6L324.6 332.6L325.4 333.6L326.2 334.6L327.0 335.6L327.7 336.6L328.5 337.6L329.3 338.6L330.2 339.5L331.0 340.5L331.8 341.5L332.6 342.4L333.5 343.4L334.3 344.3L335.2 345.3L336.0 346.2L336.9 347.1L337.8 348.0L338.6 348.9L339.5 349.8L340.4 350.7L341.3 351.6L342.2 352.5L343.2 353.4L344.1 354.3L345.0 355.1L346.0 356.0L346.9 356.9L347.9 357.7L348.8 358.6L349.8 359.4L350.8 360.2L351.7 361.0L352.7 361.9L353.7 362.7L354.7 363.5L355.7 364.3L356.7 365.1L357.7 365.8L358.7 366.6L359.7 367.4L360.8 368.1L361.8 368.9L362.8 369.7L363.8 370.4L364.9 371.1L365.9 371.9L367.0 372.6L368.0 373.3L369.1 374.0L370.1 374.7L371.2 375.4L372.3 376.1L373.3 376.8L374.4 377.5L375.5 378.2L376.5 378.8L377.6 379.5L378.7 380.2L379.8 380.8L380.9 381.4L382.0 382.1L383.1 382.7L384.2 383.3L385.3 383.9L386.4 384.6L387.5 385.2L388.6 385.8L389.7 386.4L390.8 386.9L391.9 387.5L393.0 388.1L394.1 388.7L395.3 389.2L396.4 389.8L397.5 390.3L398.6 390.9L399.8 391.4L400.9 392.0L402.0 392.5L403.2 393.0L404.3 393.6L405.5 394.1L406.6 394.6L407.8 395.1L408.9 395.6L410.1 396.1L411.2 396.6L412.4 397.0L413.6 397.5L414.7 398.0L415.9 398.5L417.0 398.9L418.2 399.4L419.4 399.8L420.6 400.3L421.7 400.7L422.9 401.2L424.1 401.6L425.3 402.0L426.5 402.5L427.7 402.9L428.8 403.3L430.0 403.7L431.2 404.1L432.4 404.5L433.6 404.9L434.8 405.3L436.0 405.7L437.2 406.1L438.4 406.5L439.6 406.8L440.8 407.2L442.1 407.6L443.3 408.0L444.5 408.3L445.7 408.7L446.9 409.0L448.1 409.4L449.4 409.7L450.6 410.1L451.8 410.4L453.0 410.7L454.3 411.1L455.5 411.4L456.7 411.7L458.0 412.0L459.2 412.3L460.4 412.6L461.7 413.0L462.9 413.3L464.1 413.6L465.4 413.9L466.6 414.2L467.9 414.4L469.1 414.7L470.4 415.0L471.6 415.3L472.9 415.6L474.1 415.8L475.4 416.1L476.6 416.4L477.9 416.7L479.1 416.9L480.4 417.2L481.7 417.4L482.9 417.7L484.2 417.9L485.4 418.2L486.7 418.4L488.0 418.7L489.2 418.9L490.5 419.2L491.8 419.4L493.0 419.6L494.3 419.8L495.6 420.1L496.8 420.3L498.1 420.5L499.4 420.7L500.7 420.9L501.9 421.1L503.2 421.2L504.5 421.4L505.7 421.6L507.0 421.7L508.3 421.9L509.6 422.0L510.8 422.1L512.1 422.3L513.4 422.4L514.6 422.5L515.9 422.6L517.2 422.7L518.4 422.7L519.7 422.8L520.9 422.8L522.2 422.9L523.5 422.9L524.7 422.9L526.0 422.9L527.2 422.9L528.5 422.8L529.7 422.8L531.0 422.7L532.2 422.7L533.5 422.6L534.7 422.5L536.0 422.3L537.2 422.2L538.4 422.0L539.7 421.9L540.9 421.7L542.1 421.5L543.3 421.3L544.6 421.0L545.8 420.8L547.0 420.5L548.2 420.2L549.4 419.9L550.6 419.5L551.8 419.2L553.0 418.8L554.2 418.4L555.4 418.0L556.6 417.5L557.8 417.1L559.0 416.6L560.1 416.1L561.3 415.6L562.4 415.0L563.6 414.4L564.7 413.9L565.8 413.2L566.9 412.6L567.9 411.9L569.0 411.2L570.0 410.5L571.0 409.7L572.0 409.0L572.9 408.2L573.9 407.3L574.8 406.5L575.7 405.6L576.5 404.7L577.4 403.8L578.2 402.8L578.9 401.8L579.7 400.8L580.4 399.8L581.1 398.8L581.8 397.7L582.4 396.6L583.0 395.5L583.6 394.4L584.2 393.3L584.7 392.1L585.3 391.0L585.8 389.8L586.3 388.6L586.7 387.4L587.2 386.2L587.6 385.0L588.0 383.8L588.4 382.6L588.8 381.3L589.1 380.1L589.5 378.8L589.8 377.6L590.1 376.3L590.5 375.1L590.7 373.8L591.0 372.6L591.3 371.3L591.6 370.1L591.8 368.8L592.1 367.6L592.3 366.3L592.5 365.1L592.8 363.8L593.0 362.5L593.2 361.3L593.4 360.0L593.6 358.8L593.7 357.5L593.9 356.3L594.1 355.0L594.2 353.8L594.4 352.5L594.5 351.2L594.6 350.0L594.8 348.7L594.9 347.5L595.0 346.2L595.1 345.0L595.2 343.7L595.3 342.4L595.4 341.2L595.5 339.9L595.6 338.7L595.7 337.4L595.7 336.1L595.8 334.9L595.9 333.6L595.9 332.4L596.0 331.1L596.1 329.8L596.1 328.6L596.2 327.3L596.2 326.1L596.3 324.8L596.4 323.5L596.4 322.3L596.5 321.0L596.5 319.7L596.6 318.5L596.6 317.2L596.6 315.9L596.7 314.7L596.7 313.4L596.8 312.1L596.8 310.9L596.9 309.6"/>
<path stroke="#FF00FF" stroke-dasharray="5.19 8.33" d="M109.7 20.5L110.3 21.6L111.0 22.7L111.6 23.8L112.3 24.9L112.9 26.0L113.6 27.1L114.2 28.2L114.9 29.3L115.5 30.4L116.2 31.5L116.8 32.6L117.5 33.6L118.1 34.7L118.8 35.8L119.4 36.9L120.1 38.0L120.7 39.1L121.4 40.2L122.0 41.3L122.7 42.4L123.4 43.5L124.0 44.6L124.7 45.7L125.3 46.7L126.0 47.8L126.6 48.9L127.3 50.0L128.0 51.1L128.6 52.2L129.3 53.3L129.9 54.4L130.6 55.5L131.3 56.6L131.9 57.6L132.6 58.7L133.3 59.8L133.9 60.9L134.6 62.0L135.3 63.1L135.9 64.2L136.6 65.2L137.3 66.3L137.9 67.4L138.6 68.5L139.3 69.6L139.9 70.7L140.6 71.8L141.3 72.9L141.9 73.9L142.6 75.0L143.3 76.1L143.9 77.2L144.6 78.3L145.3 79.4L145.9 80.5L146.6 81.5L147.3 82.6L147.9 83.7L148.6 84.8L149.3 85.9L149.9 87.0L150.6 88.1L151.3 89.1L151.9 90.2L152.6 91.3L153.3 92.4L153.9 93.5L154.6 94.6L155.3 95.7L155.9 96.7L156.6 97.8L157.3 98.9L157.9 100.0L158.6 101.1L159.3 102.2L159.9 103.3L160.6 104.4L161.2 105.4L161.9 106.5L162.6 107.6L163.2 108.7L163.9 109.8L164.6 110.9L165.2 112.0L165.9 113.1L166.5 114.1L167.2 115.2L167.9 116.3L168.5 117.4L169.2 118.5L169.8 119.6L170.5 120.7L171.2 121.8L171.8 122.9L172.5 124.0L173.1 125.1L173.8 126.1L174.4 127.2L175.1 128.3L175.7 129.4L176.4 130.5L177.0 131.6L177.7 132.7L178.4 133.8L179.0 134.9L179.7 136.0L180.3 137.1L180.9 138.2L181.6 139.3L182.2 140.4L182.9 141.5L183.5 142.6L184.2 143.7L184.8 144.8L185.5 145.9L186.1 146.9L186.8 148.0L187.4 149.1L188.1 150.2L188.7 151.3L189.3 152.4L190.0 153.5L190.6 154.6L191.3 155.7L191.9 156.8L192.6 157.9L193.2 159.0L193.8 160.1L194.5 161.2L195.1 162.3L195.8 163.4L196.4 164.5L197.0 165.6L197.7 166.7L198.3 167.8L199.0 168.9L199.6 170.0L200.3 171.1L200.9 172.2L201.5 173.3L202.2 174.4L202.8 175.5L203.5 176.6L204.1 177.7L204.7 178.8L205.4 179.9L206.0 181.0L206.7 182.1L207.3 183.2L207.9 184.3L208.6 185.4L209.2 186.5L209.9 187.6L210.5 188.7L211.1 189.8L211.8 190.9L212.4 192.0L213.1 193.1L213.7 194.2L214.4 195.3L215.0 196.4L215.6 197.5L216.3 198.6L216.9 199.7L217.6 200.8L218.2 201.9L218.9 203.0L219.5 204.1L220.2 205.2L220.8 206.3L221.5 207.4L222.1 208.4L222.8 209.5L223.4 210.6L224.0 211.7L224.7 212.8L225.3 213.9L226.0 215.0L226.6 216.1L227.3 217.2L228.0 218.3L228.6 219.4L229.3 220.5L229.9 221.6L230.6 222.7L231.2 223.8L231.9 224.9L232.5 225.9L233.2 227.0L233.8 228.1L234.5 229.2L235.2 230.3L235.8 231.4L236.5 232.5L237.1 233.6L237.8 234.7L238.5 235.7L239.1 236.8L239.8 237.9L240.5 239.0L241.1 240.1L241.8 241.2L242.5 242.3L243.1 243.3L243.8 244.4L244.5 245.5L245.2 246.6L245.8 247.7L246.5 248.8L247.2 249.8L247.8 250.9L248.5 252.0L249.2 253.1L249.9 254.2L250.6 255.2L251.2 256.3L251.9 257.4L252.6 258.5L253.3 259.6L254.0 260.6L254.7 261.7L255.4 262.8L256.0 263.9L256.7 264.9L257.4 266.0L258.1 267.1L258.8 268.1L259.5 269.2L260.2 270.3L260.9 271.4L261.6 272.4L262.3 273.5L263.0 274.6L263.7 275.6L264.4 276.7L265.1 277.8L265.8 278.8L266.5 279.9L267.2 281.0L267.9 282.0L268.7 283.1L269.4 284.1L270.1 285.2L270.8 286.3L271.5 287.3L272.3 288.4L273.0 289.4L273.7 290.5L274.4 291.5L275.2 292.6L275.9 293.6L276.6 294.7L277.4 295.7L278.1 296.8L278.9 297.8L279.6 298.8L280.3 299.9L281.1 300.9L281.8 301.9L282.6 303.0L283.4 304.0L284.1 305.0L284.9 306.0L285.7 307.0L286.4 308.1L287.2 309.1L288.0 310.1L288.8 311.1L289.5 312.1L290.3 313.1L291.1 314.1L291.9 315.1L292.7 316.1L293.5 317.1L294.3 318.0L295.1 319.0L295.9 320.0L296.8 321.0L297.6 321.9L298.4 322.9L299.2 323.8L300.1 324.8L300.9 325.8L301.7 326.7L302.6 327.6L303.4 328.6L304.3 329.5L305.1 330.4L306.0 331.4L306.9 332.3L307.7 333.2L308.6 334.1L309.5 335.0L310.4 335.9L311.3 336.8L312.2 337.7L313.1 338.6L314.0 339.5L314.9 340.4L315.8 341.2L316.7 342.1L317.6 342.9L318.6 343.8L319.5 344.6L320.4 345.5L321.4 346.3L322.4 347.1L323.3 348.0L324.3 348.8L325.2 349.6L326.2 350.4L327.2 351.2L328.2 352.0L329.2 352.8L330.2 353.6L331.2 354.3L332.2 355.1L333.2 355.9L334.2 356.6L335.3 357.4L336.3 358.1L337.3 358.9L338.4 359.6L339.4 360.3L340.4 361.0L341.5 361.8L342.6 362.5L343.6 363.2L344.7 363.9L345.8 364.6L346.8 365.3L347.9 366.0L349.0 366.6L350.1 367.3L351.2 368.0L352.3 368.6L353.4 369.3L354.5 370.0L355.6 370.6L356.7 371.3L357.8 371.9L358.9 372.5L360.0 373.2L361.1 373.8L362.3 374.4L363.4 375.0L364.5 375.6L365.7 376.3L366.8 376.9L367.9 377.5L369.1 378.0L370.2 378.6L371.4 379.2L372.5 379.8L373.7 380.4L374.8 381.0L376.0 381.5L377.1 382.1L378.3 382.7L379.5 383.2L380.6 383.8L381.8 384.3L382.9 384.9L384.1 385.4L385.3 385.9L386.5 386.5L387.6 387.0L388.8 387.5L390.0 388.1L391.1 388.6L392.3 389.1L393.5 389.6L394.7 390.1L395.9 390.6L397.0 391.1L398.2 391.6L399.4 392.1L400.6 392.6L401.7 393.1L402.9 393.6L404.1 394.1L405.3 394.6L406.5 395.0L407.7 395.5L408.8 396.0L410.0 396.5L411.2 396.9L412.4 397.4L413.6 397.9L414.7 398.3L415.9 398.8L417.1 399.2L418.3 399.7L419.5 400.1L420.7 400.6L421.8 401.0L423.0 401.4L424.2 401.9L425.4 402.3L426.6 402.7L427.8 403.1L429.0 403.5L430.2 404.0L431.3 404.4L432.5 404.8L433.7 405.2L434.9 405.6L436.1 406.0L437.3 406.3L438.5 406.7L439.7 407.1L440.9 407.5L442.1 407.8L443.3 408.2L444.5 408.6L445.7 408.9L446.9 409.3L448.1 409.6L449.3 410.0L450.5 410.3L451.7 410.6L453.0 411.0L454.2 411.3L455.4 411.6L456.6 411.9L457.8 412.2L459.0 412.6L460.3 412.9L461.5 413.1L462.7 413.4L464.0 413.7L465.2 414.0L466.4 414.3L467.6 414.5L468.9 414.8L470.1 415.1L471.4 415.3L472.6 415.6L473.8 415.8L475.1 416.0L476.3 416.3L477.6 416.5L478.9 416.7L480.1 416.9L481.4 417.1L482.6 417.3L483.9 417.5L485.2 417.7L486.4 417.9L487.7 418.1L489.0 418.3L490.3 418.4L491.5 418.6L492.8 418.7L494.1 418.9L495.4 419.0L496.7 419.2L498.0 419.3L499.3 419.4L500.6 419.5L501.9 419.6L503.2 419.7L504.5 419.8L505.8 419.9L507.1 420.0L508.4 420.1L509.7 420.1L511.1 420.2L512.4 420.2L513.7 420.2L515.0 420.2L516.3 420.2L517.6 420.2L518.9 420.2L520.2 420.2L521.5 420.1L522.8 420.1L524.1 420.0L525.4 419.9L526.7 419.8L527.9 419.6L529.2 419.5L530.5 419.3L531.7 419.1L533.0 418.9L534.2 418.7L535.5 418.5L536.7 418.2L537.9 418.0L539.1 417.7L540.3 417.3L541.5 417.0L542.7 416.6L543.9 416.2L545.0 415.8L546.2 415.4L547.3 414.9L548.4 414.5L549.5 413.9L550.6 413.4L551.7 412.9L552.8 412.3L553.9 411.7L554.9 411.0L555.9 410.3L556.9 409.6L557.9 408.9L558.9 408.2L559.9 407.4L560.8 406.6L561.7 405.8L562.7 404.9L563.5 404.1L564.4 403.2L565.3 402.2L566.1 401.3L566.9 400.3L567.7 399.4L568.4 398.4L569.2 397.3L569.9 396.3L570.6 395.3L571.3 394.2L571.9 393.1L572.5 392.0L573.1 390.9L573.7 389.7L574.2 388.6L574.7 387.4L575.2 386.3L575.7 385.1L576.2 383.9L576.6 382.7L577.0 381.5L577.4 380.2L577.8 379.0L578.1 377.8L578.5 376.5L578.8 375.3L579.1 374.1L579.4 372.8L579.7 371.6L580.0 370.3L580.3 369.1L580.5 367.8L580.8 366.6L581.0 365.3L581.3 364.1L581.5 362.8L581.7 361.6L581.9 360.3L582.1 359.0L582.2 357.8L582.4 356.5L582.6 355.2L582.7 354.0L582.9 352.7L583.0 351.4L583.1 350.2L583.3 348.9L583.4 347.6L583.5 346.4L583.6 345.1L583.7 343.8L583.8 342.5L583.9 341.3L584.0 340.0L584.0 338.7L584.1 337.4L584.2 336.2L584.2 334.9L584.3 333.6L584.4 332.3L584.4 331.1L584.5 329.8L584.5 328.5L584.6 327.2L584.6 326.0L584.7 324.7L584.7 323.4L584.8 322.1L584.8 320.8L584.8 319.6L584.9 318.3L584.9 317.0L585.0 315.8L585.0 314.5L585.1 313.2L585.1 311.9L585.2 310.7L585.2 309.4L585.3 308.1L585.4 306.9L585.4 305.6L585.5 304.3L585.6 303.1L585.6 301.8L585.7 300.6L585.8 299.3"/>
<path stroke="#FFD966" stroke-dasharray="0.01 6.05" d="M143.3 55.1L144.1 56.1L144.8 57.1L145.6 58.1L146.3 59.1L147.1 60.1L147.9 61.1L148.6 62.0L149.4 63.0L150.1 64.0L150.9 65.0L151.6 66.0L152.4 67.0L153.1 68.0L153.9 69.0L154.6 70.0L155.3 71.0L156.1 72.0L156.8 73.0L157.6 74.0L158.3 75.0L159.1 76.0L159.8 77.0L160.5 78.0L161.3 79.0L162.0 80.0L162.7 81.1L163.5 82.1L164.2 83.1L164.9 84.1L165.7 85.1L166.4 86.1L167.1 87.1L167.9 88.1L168.6 89.1L169.3 90.1L170.0 91.1L170.8 92.2L171.5 93.2L172.2 94.2L172.9 95.2L173.7 96.2L174.4 97.2L175.1 98.2L175.8 99.3L176.5 100.3L177.2 101.3L178.0 102.3L178.7 103.3L179.4 104.3L180.1 105.4L180.8 106.4L181.5 107.4L182.2 108.4L182.9 109.4L183.6 110.5L184.4 111.5L185.1 112.5L185.8 113.5L186.5 114.6L187.2 115.6L187.9 116.6L188.6 117.6L189.3 118.7L190.0 119.7L190.7 120.7L191.4 121.7L192.1 122.8L192.8 123.8L193.5 124.8L194.2 125.9L194.9 126.9L195.6 127.9L196.3 128.9L197.0 130.0L197.7 131.0L198.4 132.0L199.0 133.1L199.7 134.1L200.4 135.1L201.1 136.2L201.8 137.2L202.5 138.2L203.2 139.3L203.9 140.3L204.6 141.3L205.2 142.4L205.9 143.4L206.6 144.5L207.3 145.5L208.0 146.5L208.7 147.6L209.3 148.6L210.0 149.7L210.7 150.7L211.4 151.7L212.1 152.8L212.7 153.8L213.4 154.9L214.1 155.9L214.8 156.9L215.5 158.0L216.1 159.0L216.8 160.1L217.5 161.1L218.2 162.2L218.8 163.2L219.5 164.2L220.2 165.3L220.9 166.3L221.5 167.4L222.2 168.4L222.9 169.5L223.5 170.5L224.2 171.6L224.9 172.6L225.6 173.7L226.2 174.7L226.9 175.8L227.6 176.8L228.2 177.9L228.9 178.9L229.6 180.0L230.2 181.0L230.9 182.1L231.6 183.1L232.2 184.2L232.9 185.2L233.6 186.3L234.2 187.3L234.9 188.4L235.5 189.4L236.2 190.5L236.9 191.5L237.5 192.6L238.2 193.6L238.9 194.7L239.5 195.8L240.2 196.8L240.8 197.9L241.5 198.9L242.2 200.0L242.8 201.0L243.5 202.1L244.1 203.1L244.8 204.2L245.5 205.3L246.1 206.3L246.8 207.4L247.4 208.4L248.1 209.5L248.7 210.6L249.4 211.6L250.1 212.7L250.7 213.7L251.4 214.8L252.0 215.9L252.7 216.9L253.3 218.0L254.0 219.0L254.6 220.1L255.3 221.2L255.9 222.2L256.6 223.3L257.3 224.3L257.9 225.4L258.6 226.5L259.2 227.5L259.9 228.6L260.5 229.7L261.2 230.7L261.8 231.8L262.5 232.8L263.1 233.9L263.8 235.0L264.4 236.0L265.1 237.1L265.7 238.2L266.4 239.2L267.0 240.3L267.7 241.4L268.3 242.4L269.0 243.5L269.7 244.6L270.3 245.6L271.0 246.7L271.6 247.8L272.3 248.8L272.9 249.9L273.6 251.0L274.2 252.0L274.9 253.1L275.5 254.2L276.2 255.2L276.8 256.3L277.5 257.4L278.1 258.4L278.8 259.5L279.4 260.6L280.1 261.6L280.7 262.7L281.4 263.8L282.0 264.8L282.7 265.9L283.3 267.0L284.0 268.0L284.7 269.1L285.3 270.2L286.0 271.2L286.6 272.3L287.3 273.3L288.0 274.4L288.6 275.5L289.3 276.5L289.9 277.6L290.6 278.6L291.3 279.7L291.9 280.8L292.6 281.8L293.3 282.9L294.0 283.9L294.6 285.0L295.3 286.0L296.0 287.1L296.7 288.1L297.3 289.2L298.0 290.2L298.7 291.3L299.4 292.3L300.1 293.3L300.8 294.4L301.4 295.4L302.1 296.5L302.8 297.5L303.5 298.5L304.2 299.6L304.9 300.6L305.6 301.6L306.3 302.6L307.0 303.7L307.7 304.7L308.4 305.7L309.1 306.7L309.9 307.8L310.6 308.8L311.3 309.8L312.0 310.8L312.7 311.8L313.5 312.8L314.2 313.8L314.9 314.8L315.7 315.8L316.4 316.8L317.1 317.8L317.9 318.8L318.6 319.8L319.4 320.8L320.1 321.8L320.9 322.8L321.6 323.8L322.4 324.8L323.1 325.7L323.9 326.7L324.7 327.7L325.4 328.7L326.2 329.6L327.0 330.6L327.8 331.5L328.6 332.5L329.3 333.5L330.1 334.4L330.9 335.4L331.7 336.3L332.5 337.3L333.3 338.2L334.1 339.1L335.0 340.1L335.8 341.0L336.6 341.9L337.4 342.9L338.2 343.8L339.1 344.7L339.9 345.6L340.8 346.5L341.6 347.4L342.4 348.3L343.3 349.2L344.2 350.1L345.0 351.0L345.9 351.9L346.8 352.8L347.6 353.7L348.5 354.6L349.4 355.5L350.3 356.3L351.2 357.2L352.1 358.1L353.0 358.9L353.9 359.8L354.8 360.6L355.7 361.5L356.6 362.3L357.5 363.2L358.5 364.0L359.4 364.8L360.3 365.7L361.3 366.5L362.2 367.3L363.2 368.1L364.1 368.9L365.1 369.7L366.1 370.5L367.0 371.3L368.0 372.1L369.0 372.8L370.0 373.6L371.0 374.4L372.0 375.1L373.0 375.9L374.0 376.6L375.0 377.3L376.0 378.1L377.0 378.8L378.1 379.5L379.1 380.2L380.1 380.9L381.2 381.6L382.2 382.2L383.3 382.9L384.3 383.5L385.4 384.2L386.4 384.8L387.5 385.5L388.6 386.1L389.7 386.7L390.8 387.3L391.9 387.9L392.9 388.5L394.0 389.0L395.1 389.6L396.3 390.2L397.4 390.7L398.5 391.3L399.6 391.8L400.7 392.4L401.8 392.9L403.0 393.4L404.1 393.9L405.2 394.4L406.4 394.9L407.5 395.4L408.7 395.9L409.8 396.4L410.9 396.9L412.1 397.3L413.3 397.8L414.4 398.3L415.6 398.7L416.7 399.2L417.9 399.6L419.0 400.1L420.2 400.5L421.4 401.0L422.5 401.4L423.7 401.8L424.9 402.3L426.1 402.7L427.2 403.1L428.4 403.5L429.6 403.9L430.8 404.3L431.9 404.7L433.1 405.1L434.3 405.5L435.5 405.9L436.7 406.3L437.9 406.7L439.0 407.1L440.2 407.5L441.4 407.8L442.6 408.2L443.8 408.6L445.0 408.9L446.2 409.3L447.4 409.7L448.6 410.0L449.8 410.4L451.0 410.7L452.2 411.0L453.4 411.4L454.6 411.7L455.8 412.0L457.0 412.4L458.2 412.7L459.4 413.0L460.6 413.3L461.8 413.6L463.0 414.0L464.2 414.3L465.4 414.6L466.7 414.9L467.9 415.2L469.1 415.5L470.3 415.7L471.5 416.0L472.7 416.3L473.9 416.6L475.1 416.9L476.4 417.1L477.6 417.4L478.8 417.7L480.0 418.0L481.2 418.2L482.4 418.5L483.6 418.7L484.9 419.0L486.1 419.2L487.3 419.5L488.5 419.7L489.7 420.0L490.9 420.2L492.2 420.5L493.4 420.7L494.6 420.9L495.8 421.1L497.0 421.4L498.3 421.6L499.5 421.8L500.7 422.0L501.9 422.2L503.1 422.5L504.3 422.7L505.6 422.9L506.8 423.1L508.0 423.3L509.2 423.5L510.5 423.6L511.7 423.8L512.9 424.0L514.1 424.2L515.4 424.4L516.6 424.5L517.8 424.7L519.1 424.9L520.3 425.0L521.5 425.2L522.8 425.3L524.0 425.5L525.2 425.6L526.5 425.8L527.7 425.9L529.0 426.0L530.2 426.1L531.5 426.3L532.7 426.4L534.0 426.5L535.2 426.6L536.5 426.7L537.7 426.8L539.0 426.8L540.3 426.9L541.5 427.0L542.8 427.0L544.0 427.1L545.3 427.1L546.6 427.1L547.8 427.1L549.1 427.1L550.3 427.1L551.6 427.1L552.8 427.0L554.1 426.9L555.3 426.9L556.6 426.8L557.8 426.7L559.1 426.5L560.3 426.4L561.6 426.2L562.8 426.1L564.0 425.8L565.3 425.6L566.5 425.4L567.7 425.1L568.9 424.8L570.1 424.5L571.4 424.2L572.6 423.9L573.7 423.5L574.9 423.1L576.1 422.7L577.3 422.3L578.4 421.8L579.6 421.3L580.7 420.8L581.8 420.3L583.0 419.8L584.0 419.2L585.1 418.6L586.2 418.0L587.3 417.4L588.3 416.7L589.3 416.0L590.3 415.4L591.3 414.6L592.3 413.9L593.2 413.1L594.1 412.4L595.0 411.5L595.9 410.7L596.8 409.9L597.6 409.0L598.4 408.1L599.2 407.2L600.0 406.2L600.7 405.3L601.5 404.3L602.2 403.3L602.8 402.3L603.5 401.3L604.1 400.2L604.7 399.1L605.3 398.1L605.9 397.0L606.5 395.8L607.0 394.7L607.5 393.6L608.0 392.4L608.5 391.3L609.0 390.1L609.4 388.9L609.8 387.7L610.3 386.5L610.7 385.3L611.0 384.1L611.4 382.9L611.8 381.7L612.1 380.5L612.4 379.2L612.8 378.0L613.1 376.8L613.4 375.5L613.6 374.3L613.9 373.1L614.2 371.8L614.4 370.6L614.7 369.4L614.9 368.1L615.1 366.9L615.3 365.7L615.5 364.4L615.7 363.2L615.9 362.0L616.1 360.7L616.3 359.5L616.4 358.3L616.6 357.0L616.7 355.8L616.9 354.5L617.0 353.3L617.1 352.1L617.2 350.8L617.3 349.6L617.4 348.4L617.5 347.1L617.6 345.9L617.7 344.6L617.8 343.4L617.9 342.2L617.9 340.9L618.0 339.7L618.1 338.4L618.1 337.2L618.2 336.0L618.2 334.7L618.3 333.5L618.3 332.2L618.4 331.0L618.4 329.8L618.5 328.5L618.5 327.3L618.5 326.0L618.6 324.8L618.6 323.6L618.6 322.3L618.7 321.1L618.7 319.8L618.7 318.6L618.7 317.3L618.8 316.1L618.8 314.9L618.8 313.6L618.9 312.4L618.9 311.1L618.9 309.9L619.0 308.6L619.0 307.4L619.1 306.1L619.1 304.9L619.2 303.6L619.2 302.4"/>
</g>
<g stroke="#000" stroke-width="2" fill="none">
<rect x="79.3" y="1.0" width="604.7" height="485.9"/>
<path d="M85.9 486.9v-4.8M85.9 1.0v4.8M91.6 486.9v-4.8M91.6 1.0v4.8M96.4 486.9v-4.8M96.4 1.0v4.8M100.7 486.9v-4.8M100.7 1.0v4.8M104.6 486.9v-9.5M104.6 1.0v9.5M129.8 486.9v-4.8M129.8 1.0v4.8M144.6 486.9v-4.8M144.6 1.0v4.8M155.1 486.9v-4.8M155.1 1.0v4.8M163.2 486.9v-4.8M163.2 1.0v4.8M169.9 486.9v-4.8M169.9 1.0v4.8M175.5 486.9v-4.8M175.5 1.0v4.8M180.4 486.9v-4.8M180.4 1.0v4.8M184.7 486.9v-4.8M184.7 1.0v4.8M188.5 486.9v-9.5M188.5 1.0v9.5M213.8 486.9v-4.8M213.8 1.0v4.8M228.6 486.9v-4.8M228.6 1.0v4.8M239.0 486.9v-4.8M239.0 1.0v4.8M247.2 486.9v-4.8M247.2 1.0v4.8M253.8 486.9v-4.8M253.8 1.0v4.8M259.4 486.9v-4.8M259.4 1.0v4.8M264.3 486.9v-4.8M264.3 1.0v4.8M268.6 486.9v-4.8M268.6 1.0v4.8M272.4 486.9v-9.5M272.4 1.0v9.5M297.7 486.9v-4.8M297.7 1.0v4.8M312.5 486.9v-4.8M312.5 1.0v4.8M323.0 486.9v-4.8M323.0 1.0v4.8M331.1 486.9v-4.8M331.1 1.0v4.8M337.8 486.9v-4.8M337.8 1.0v4.8M343.4 486.9v-4.8M343.4 1.0v4.8M348.2 486.9v-4.8M348.2 1.0v4.8M352.5 486.9v-4.8M352.5 1.0v4.8M356.4 486.9v-9.5M356.4 1.0v9.5M381.7 486.9v-4.8M381.7 1.0v4.8M396.4 486.9v-4.8M396.4 1.0v4.8M406.9 486.9v-4.8M406.9 1.0v4.8M415.1 486.9v-4.8M415.1 1.0v4.8M421.7 486.9v-4.8M421.7 1.0v4.8M427.3 486.9v-4.8M427.3 1.0v4.8M432.2 486.9v-4.8M432.2 1.0v4.8M436.5 486.9v-4.8M436.5 1.0v4.8M440.3 486.9v-9.5M440.3 1.0v9.5M465.6 486.9v-4.8M465.6 1.0v4.8M480.4 486.9v-4.8M480.4 1.0v4.8M490.9 486.9v-4.8M490.9 1.0v4.8M499.0 486.9v-4.8M499.0 1.0v4.8M505.6 486.9v-4.8M505.6 1.0v4.8M511.3 486.9v-4.8M511.3 1.0v4.8M516.1 486.9v-4.8M516.1 1.0v4.8M520.4 486.9v-4.8M520.4 1.0v4.8M524.3 486.9v-9.5M524.3 1.0v9.5M549.5 486.9v-4.8M549.5 1.0v4.8M564.3 486.9v-4.8M564.3 1.0v4.8M574.8 486.9v-4.8M574.8 1.0v4.8M582.9 486.9v-4.8M582.9 1.0v4.8M589.6 486.9v-4.8M589.6 1.0v4.8M595.2 486.9v-4.8M595.2 1.0v4.8M600.1 486.9v-4.8M600.1 1.0v4.8M604.4 486.9v-4.8M604.4 1.0v4.8M608.2 486.9v-9.5M608.2 1.0v9.5M633.5 486.9v-4.8M633.5 1.0v4.8M648.2 486.9v-4.8M648.2 1.0v4.8M658.7 486.9v-4.8M658.7 1.0v4.8M666.9 486.9v-4.8M666.9 1.0v4.8M673.5 486.9v-4.8M673.5 1.0v4.8M679.1 486.9v-4.8M679.1 1.0v4.8M79.3 457.4h4.8M684.0 457.4h-4.8M79.3 440.1h4.8M684.0 440.1h-4.8M79.3 427.9h4.8M684.0 427.9h-4.8M79.3 418.3h4.8M684.0 418.3h-4.8M79.3 410.6h4.8M684.0 410.6h-4.8M79.3 404.0h4.8M684.0 404.0h-4.8M79.3 398.3h4.8M684.0 398.3h-4.8M79.3 393.3h4.8M684.0 393.3h-4.8M79.3 388.8h9.5M684.0 388.8h-9.5M79.3 359.3h4.8M684.0 359.3h-4.8M79.3 342.0h4.8M684.0 342.0h-4.8M79.3 329.8h4.8M684.0 329.8h-4.8M79.3 320.3h4.8M684.0 320.3h-4.8M79.3 312.5h4.8M684.0 312.5h-4.8M79.3 305.9h4.8M684.0 305.9h-4.8M79.3 300.2h4.8M684.0 300.2h-4.8M79.3 295.2h4.8M684.0 295.2h-4.8M79.3 290.7h9.5M684.0 290.7h-9.5M79.3 261.2h4.8M684.0 261.2h-4.8M79.3 243.9h4.8M684.0 243.9h-4.8M79.3 231.7h4.8M684.0 231.7h-4.8M79.3 222.2h4.8M684.0 222.2h-4.8M79.3 214.4h4.8M684.0 214.4h-4.8M79.3 207.9h4.8M684.0 207.9h-4.8M79.3 202.2h4.8M684.0 202.2h-4.8M79.3 197.2h4.8M684.0 197.2h-4.8M79.3 192.7h9.5M684.0 192.7h-9.5M79.3 163.1h4.8M684.0 163.1h-4.8M79.3 145.9h4.8M684.0 145.9h-4.8M79.3 133.6h4.8M684.0 133.6h-4.8M79.3 124.1h4.8M684.0 124.1h-4.8M79.3 116.3h4.8M684.0 116.3h-4.8M79.3 109.8h4.8M684.0 109.8h-4.8M79.3 104.1h4.8M684.0 104.1h-4.8M79.3 99.1h4.8M684.0 99.1h-4.8M79.3 94.6h9.5M684.0 94.6h-9.5M79.3 65.1h4.8M684.0 65.1h-4.8M79.3 47.8h4.8M684.0 47.8h-4.8M79.3 35.5h4.8M684.0 35.5h-4.8M79.3 26.0h4.8M684.0 26.0h-4.8M79.3 18.3h4.8M684.0 18.3h-4.8M79.3 11.7h4.8M684.0 11.7h-4.8M79.3 6.0h4.8M684.0 6.0h-4.8"/>
</g>
<g font-size="20.9" stroke="#000" stroke-width="0.45" stroke-linejoin="round">
<text transform="translate(104.9,514.1) scale(1,1.05)" text-anchor="middle">0.01</text>
<text transform="translate(188.8,514.1) scale(1,1.05)" text-anchor="middle">0.1</text>
<text transform="translate(272.7,514.1) scale(1,1.05)" text-anchor="middle">1</text>
<text transform="translate(356.7,514.1) scale(1,1.05)" text-anchor="middle" letter-spacing="0">10</text>
<text transform="translate(440.6,514.1) scale(1,1.05)" text-anchor="middle" letter-spacing="0">100</text>
<text transform="translate(524.6,514.1) scale(1,1.05)" text-anchor="middle" letter-spacing="0">1000</text>
<text transform="translate(608.5,514.1) scale(1,1.05)" text-anchor="middle" letter-spacing="0">10000</text>
<text transform="translate(68.8,493.4) scale(1,1.05)" text-anchor="end">0.01</text>
<text transform="translate(68.8,395.3) scale(1,1.05)" text-anchor="end">0.1</text>
<text transform="translate(68.8,297.2) scale(1,1.05)" text-anchor="end">1</text>
<text transform="translate(68.8,199.2) scale(1,1.05)" text-anchor="end" letter-spacing="0">10</text>
<text transform="translate(68.8,101.1) scale(1,1.05)" text-anchor="end" letter-spacing="0">100</text>
</g>
<text x="382" y="552.7" font-size="26" font-style="italic" text-anchor="middle" stroke="#000" stroke-width="0.3">b</text>
<text transform="translate(18.3,243.2) rotate(-90)" font-size="26" font-style="italic" font-weight="bold" text-anchor="middle" stroke="#000" stroke-width="0.3">R</text>
<g fill="none" stroke-width="4" stroke-linecap="round">
<path stroke="#000000" d="M547 32.5H599"/>
<path stroke="#FF0000" stroke-dasharray="12.3 17.87" d="M547 66.0H599"/>
<path stroke="#1A7F42" stroke-dasharray="2.2 15.5" d="M547 94.6H599"/>
<path stroke="#0000FF" stroke-dasharray="16 10 1.6 10.2" d="M547 128.4H599"/>
<path stroke="#00FFFF" stroke-dasharray="11.3 10.2 1.7 10 1.7 10.2" d="M547 161.7H599"/>
<path stroke="#FF00FF" stroke-dasharray="5.2 8.35" d="M547 190.0H599"/>
<path stroke="#FFD966" stroke-dasharray="0.01 6.04" d="M547 218.4H599"/>
</g>
<g font-size="23.1" stroke="#000" stroke-width="0.35" stroke-linejoin="round">
<text x="605.1" y="40.9">H<tspan font-size="16" dy="6">2</tspan></text>
<text x="605.1" y="74.3">He</text>
<text x="605.1" y="102.9">N<tspan font-size="16" dy="6">2</tspan></text>
<text x="605.1" y="136.8">O<tspan font-size="16" dy="6">2</tspan></text>
<text x="605.1" y="170.0">Ne</text>
<text x="605.1" y="198.3">Ar</text>
<text x="605.1" y="226.8">H<tspan font-size="16" dy="6">2</tspan><tspan dy="-6">O</tspan></text>
</g>
</svg>
</body></html>
